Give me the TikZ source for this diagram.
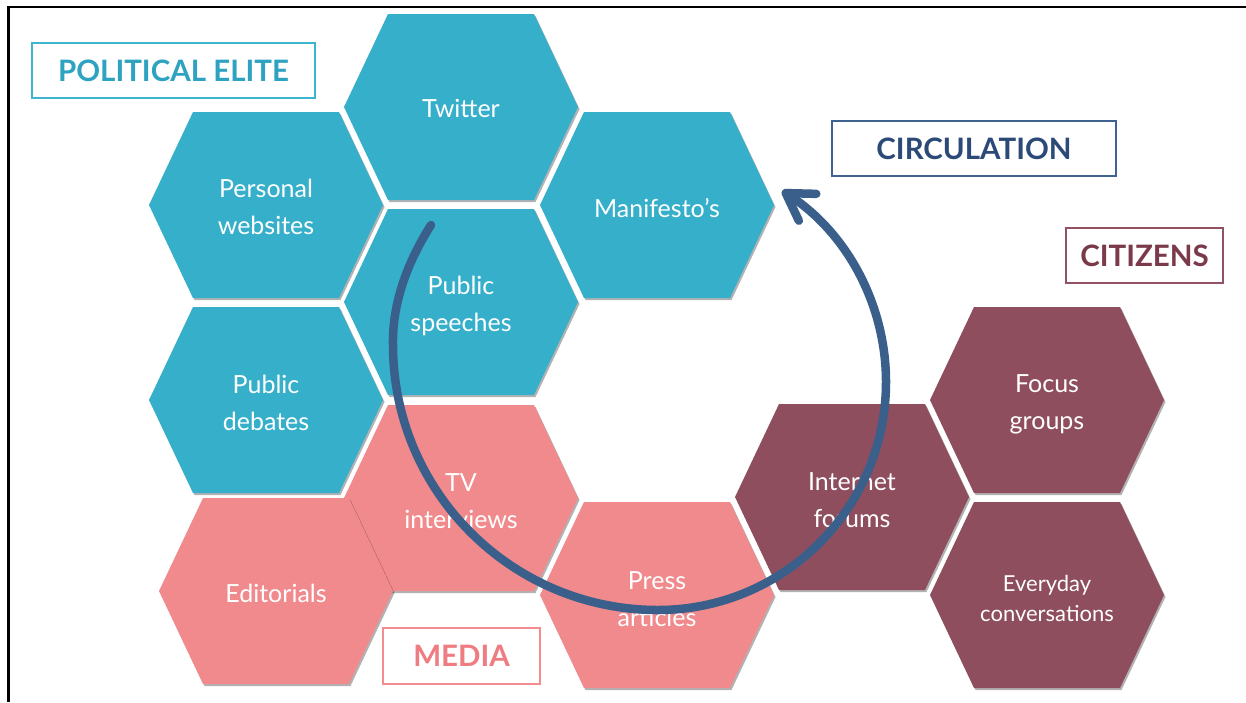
\documentclass[tikz,border=0pt]{standalone}
\usepackage{fontspec}
\setmainfont{Lato}
\usetikzlibrary{shadows,arrows.meta}
\definecolor{hexteal}{RGB}{53,175,202}
\definecolor{hexpink}{RGB}{241,138,140}
\definecolor{hexmaroon}{RGB}{142,78,94}
\definecolor{arrowblue}{RGB}{59,95,139}
\definecolor{labtealtext}{RGB}{45,163,193}
\definecolor{labtealline}{RGB}{62,181,207}
\definecolor{labbluetext}{RGB}{44,74,120}
\definecolor{labblueline}{RGB}{62,99,145}
\definecolor{labmaroontext}{RGB}{123,58,74}
\definecolor{labmaroonline}{RGB}{145,82,98}
\definecolor{labpinktext}{RGB}{238,124,128}
\definecolor{labpinkline}{RGB}{242,140,142}
\newcommand\myhex[3]{\fill[#3, hexshadow] (#1,#2) ++(-117,0) -- ++(44,-93) -- ++(146,0) -- ++(44,93) -- ++(-44,93) -- ++(-146,0) -- cycle;}
\begin{document}
\begin{tikzpicture}[x=1pt,y=-1pt,
  hexshadow/.style={drop shadow={shadow xshift=1.5pt, shadow yshift=-2pt, opacity=0.3, fill=black}},
  hextext/.style={text=white, align=center, inner sep=0pt, font=\fontsize{25}{37}\selectfont},
  smalltext/.style={text=white, align=center, inner sep=0pt, font=\fontsize{22}{30}\selectfont},
  labbox/.style={draw, line width=2.5pt, fill=white, inner sep=0pt, minimum height=55pt, font=\fontsize{29.5}{32}\selectfont\bfseries},
  circarrow/.style={draw=arrowblue, line width=8.5pt, line cap=round, -{Straight Barb[length=26pt,width=32pt,line cap=round,line join=round]}}
]
\useasboundingbox (0,0) rectangle (1246,702);
\fill[white] (0,0) rectangle (1246,702);
\draw[line width=2.5pt] (8.5,702) -- (8.5,7) -- (1246,7);

% hexagons
\myhex{461}{107}{hexteal}
\myhex{266}{205}{hexteal}
\myhex{657}{205}{hexteal}
\myhex{461}{302}{hexteal}
\myhex{266}{400}{hexteal}
\myhex{461}{498}{hexpink}
\myhex{276}{591}{hexpink}
\myhex{657}{595}{hexpink}
\myhex{852}{497}{hexmaroon}
\myhex{1047}{400}{hexmaroon}
\myhex{1047}{595}{hexmaroon}

% texts
\node[hextext] (twitter) at (461,108) {Twitter};
\node[hextext] (personal) at (266,207) {Personal\\websites};
\node[hextext] (manifesto) at (657,208) {Manifesto’s};
\node[hextext] (speeches) at (461,306) {Public\\speeches};
\node[hextext] (debates) at (266,403) {Public\\debates};
\node[hextext] (tv) at (461,501) {TV\\interviews};
\node[hextext] (editorials) at (276,593) {Editorials};
\node[hextext] (press) at (657,599) {Press\\articles};
\node[hextext] (forums) at (852,500) {Internet\\forums};
\node[hextext] (focus) at (1047,404) {Focus\\groups};
\node[smalltext] (everyday) at (1047,598) {Everyday\\conversations};

% circulation arrow
\coordinate (arcstart) at (431,225);
\coordinate (arcleft) at (393,345);
\draw[circarrow] (arcstart) .. controls (410,258) and (392,300) .. (arcleft)
  arc[start angle=180, end angle=90, radius=265]
  arc[start angle=90, end angle=-57, radius=228];

% label boxes
\node[labbox, draw=labtealline, text=labtealtext, minimum width=283pt] (elite) at (173.5,70.5) {POLITICAL ELITE};
\node[labbox, draw=labblueline, text=labbluetext, minimum width=284pt] (circulation) at (974,148.5) {CIRCULATION};
\node[labbox, draw=labmaroonline, text=labmaroontext, minimum width=157pt] (citizens) at (1144.5,255.5) {CITIZENS};
\node[labbox, draw=labpinkline, text=labpinktext, minimum width=157pt, minimum height=56pt] (media) at (461.5,656) {MEDIA};
\end{tikzpicture}
\end{document}
